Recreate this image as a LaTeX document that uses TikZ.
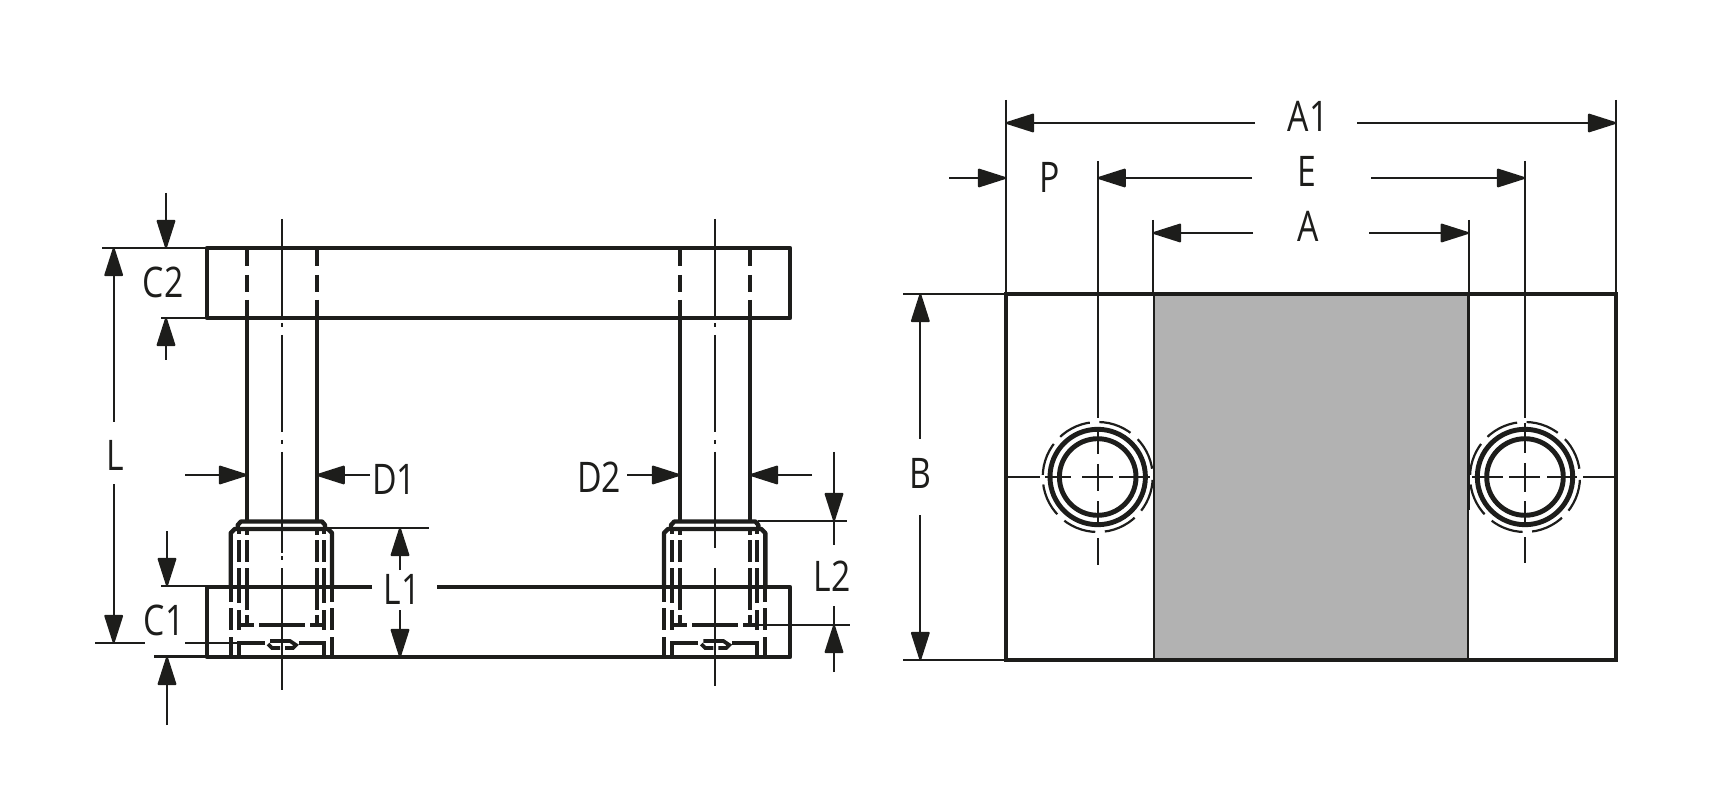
\documentclass[tikz,border=0pt]{standalone}
\usepackage{xcolor}
\usepackage{fontspec}
\setmainfont{Open Sans}
\usetikzlibrary{arrows.meta}
\definecolor{inkblack}{HTML}{1D1D1B}
\definecolor{sleevegrey}{HTML}{B2B2B2}
\newcommand{\dimlabel}[1]{\scalebox{0.8}[1]{\fontsize{24pt}{26pt}\selectfont #1}}
\tikzset{
	outline/.style={draw=inkblack, line width=2.5pt, line join=round},
	hidden/.style={draw=inkblack, line width=2.1pt},
	thinline/.style={draw=inkblack, line width=1.25pt},
	dimarrow/.style={thinline, -{Triangle[length=17.5pt,width=10.8pt,round]}},
	dimtext/.style={text=inkblack, inner sep=0pt}
}

\begin{document}
\begin{tikzpicture}[x=0.02cm, y=-0.02cm]
	\useasboundingbox (0,0) rectangle (1720,810);

	% plates
	\draw[outline] (207,248) rectangle (790,318);
	\draw[outline] (372,587) -- (207,587) -- (207,657) -- (790,657) -- (790,587) -- (437,587);

	% left pin
	\draw[outline] (247,318) -- (247,521);
	\draw[outline] (316.7,318) -- (316.7,521);
	\draw[hidden] (247,248) -- (247,266) (247,275) -- (247,292) (247,300) -- (247,318);
	\draw[hidden] (316.7,248) -- (316.7,266) (316.7,275) -- (316.7,292) (316.7,300) -- (316.7,318);
	\draw[thinline] (281.7,219) -- (281.7,318) (281.7,323) -- (281.7,327) (281.7,335) -- (281.7,432) (281.7,440) -- (281.7,444) (281.7,452) -- (281.7,553) (281.7,556) -- (281.7,560) (281.7,568) -- (281.7,690);
	\draw[outline] (237.7,529) -- (237.7,525) -- (241,521.5) -- (322,521.5) -- (325,525) -- (325,529);
	\draw[outline] (230.7,587) -- (230.7,533) -- (234.7,529) -- (328,529) -- (332,533) -- (332,587);
	\draw[hidden] (230.7,587) -- (230.7,602) (230.7,608) -- (230.7,630) (230.7,637) -- (230.7,657);
	\draw[hidden] (332,587) -- (332,602) (332,608) -- (332,630) (332,637) -- (332,657);
	\draw[hidden] (239,530) -- (239,534) (239,540) -- (239,562) (239,568) -- (239,603) (239,610) -- (239,630);
	\draw[hidden] (324,530) -- (324,534) (324,540) -- (324,562) (324,568) -- (324,603) (324,610) -- (324,630);
	\draw[hidden] (246.7,530) -- (246.7,535) (246.7,540) -- (246.7,562) (246.7,568) -- (246.7,610) (246.7,615) -- (246.7,626);
	\draw[hidden] (316.7,530) -- (316.7,535) (316.7,540) -- (316.7,562) (316.7,568) -- (316.7,610) (316.7,615) -- (316.7,626);
	\draw[hidden] (239,625) -- (254,625) (259,625) -- (305,625) (310,625) -- (324,625);
	\draw[hidden] (239,657) -- (239,643) -- (265,643) (299,643) -- (324,643) -- (324,657);
	\draw[hidden] (268,644) -- (272,648) -- (280,648) (285,648) -- (293,648) -- (296,645) -- (290,641) -- (270,641);

	% right pin
	\draw[outline] (680,318) -- (680,521);
	\draw[outline] (750,318) -- (750,521);
	\draw[hidden] (680,248) -- (680,266) (680,275) -- (680,292) (680,300) -- (680,318);
	\draw[hidden] (750,248) -- (750,266) (750,275) -- (750,292) (750,300) -- (750,318);
	\draw[thinline] (715,219) -- (715,318) (715,323) -- (715,327) (715,335) -- (715,432) (715,440) -- (715,444) (715,452) -- (715,548) (715,568) -- (715,686);
	\draw[outline] (671,529) -- (671,525) -- (674.3,521.5) -- (755.3,521.5) -- (758.3,525) -- (758.3,529);
	\draw[outline] (664,587) -- (664,533) -- (668,529) -- (761.3,529) -- (765.3,533) -- (765.3,587);
	\draw[hidden] (664,587) -- (664,602) (664,608) -- (664,630) (664,637) -- (664,657);
	\draw[hidden] (765.3,587) -- (765.3,602) (765.3,608) -- (765.3,630) (765.3,637) -- (765.3,657);
	\draw[hidden] (672.3,530) -- (672.3,534) (672.3,540) -- (672.3,562) (672.3,568) -- (672.3,603) (672.3,610) -- (672.3,630);
	\draw[hidden] (757.3,530) -- (757.3,534) (757.3,540) -- (757.3,562) (757.3,568) -- (757.3,603) (757.3,610) -- (757.3,630);
	\draw[hidden] (680,530) -- (680,535) (680,540) -- (680,562) (680,568) -- (680,610) (680,615) -- (680,626);
	\draw[hidden] (750,530) -- (750,535) (750,540) -- (750,562) (750,568) -- (750,610) (750,615) -- (750,626);
	\draw[hidden] (672.3,625) -- (687.3,625) (692.3,625) -- (738.3,625) (743.3,625) -- (757.3,625);
	\draw[hidden] (672.3,657) -- (672.3,643) -- (698.3,643) (732.3,643) -- (757.3,643) -- (757.3,657);
	\draw[hidden] (701.3,644) -- (705.3,648) -- (713.3,648) (718.3,648) -- (726.3,648) -- (729.3,645) -- (723.3,641) -- (703.3,641);

	% extension lines of the side view
	\draw[thinline] (102,248) -- (207,248);
	\draw[thinline] (161,318) -- (207,318);
	\draw[thinline] (161,586) -- (207,586);
	\draw[thinline] (154,656.5) -- (207,656.5);
	\draw[thinline] (95,643) -- (145,643);
	\draw[thinline] (185,643) -- (239,643);
	\draw[thinline] (325,528) -- (429,528);
	\draw[thinline] (758,521) -- (847,521);
	\draw[thinline] (758,625) -- (850,625);

	% dimensions of the side view
	\draw[dimarrow] (113.7,422) -- (113.7,248);
	\draw[dimarrow] (113.7,484) -- (113.7,643);
	\draw[dimarrow] (166,193) -- (166,248);
	\draw[dimarrow] (166,360) -- (166,318);
	\draw[dimarrow] (167,531) -- (167,586);
	\draw[dimarrow] (167,725) -- (167,657);
	\draw[dimarrow] (185,475) -- (247,475);
	\draw[dimarrow] (370,475) -- (316.7,475);
	\draw[dimarrow] (627,475) -- (680,475);
	\draw[dimarrow] (812,475) -- (750,475);
	\draw[dimarrow] (400,570) -- (400,528);
	\draw[dimarrow] (400,610) -- (400,657);
	\draw[dimarrow] (834,452) -- (834,521);
	\draw[thinline] (834,521) -- (834,545);
	\draw[dimarrow] (834,672) -- (834,625);
	\draw[thinline] (834,625) -- (834,606);
	\node[dimtext] (labelL) at (115,455) {\dimlabel{L}};
	\node[dimtext] (labelCtwo) at (163,282) {\dimlabel{C2}};
	\node[dimtext] (labelCone) at (164,620) {\dimlabel{C1}};
	\node[dimtext] (labelDone) at (394,479) {\dimlabel{D1}};
	\node[dimtext] (labelDtwo) at (599,477) {\dimlabel{D2}};
	\node[dimtext] (labelLone) at (402,589) {\dimlabel{L1}};
	\node[dimtext] (labelLtwo) at (832,576) {\dimlabel{L2}};

	% top view
	\fill[sleevegrey] (1154,294) rectangle (1468,660);
	\draw[draw=inkblack, line width=0.8pt] (1154,294) rectangle (1468,660);
	\draw[draw=inkblack, line width=1.6pt] (1154,294) -- (1154,507);
	\draw[draw=inkblack, line width=1.6pt] (1468.3,294) -- (1468.3,510);
	\draw[draw=inkblack, line width=2.6pt] (1006,294) rectangle (1616,660);

	% left bore
	\draw[thinline] (1097.7,161) -- (1097.7,418);
	\draw[thinline] (1097.7,427) -- (1097.7,454) (1097.7,464) -- (1097.7,491) (1097.7,501) -- (1097.7,527) (1097.7,538) -- (1097.7,565);
	\draw[thinline] (1006,477) -- (1040,477) (1045,477) -- (1071,477) (1082,477) -- (1113,477) (1119,477) -- (1150,477);
	\draw[draw=inkblack, line width=2.8pt] (1097.7,477) circle (47.7);
	\draw[draw=inkblack, line width=2.8pt] (1097.7,477) circle (38.3);
	\draw[thinline, dash pattern=on 19pt off 5.47pt, dash phase=22.85pt] (1097.7,477) circle (55);

	% right bore
	\draw[thinline] (1525,161) -- (1525,418);
	\draw[thinline] (1525,423) -- (1525,453) (1525,463) -- (1525,492) (1525,501) -- (1525,525) (1525,537) -- (1525,563);
	\draw[thinline] (1472,477) -- (1503,477) (1509,477) -- (1540,477) (1547,477) -- (1577,477) (1583,477) -- (1616,477);
	\draw[draw=inkblack, line width=2.8pt] (1525,477) circle (47.7);
	\draw[draw=inkblack, line width=2.8pt] (1525,477) circle (38.3);
	\draw[thinline, dash pattern=on 19pt off 5.47pt, dash phase=22.85pt] (1525,477) circle (55);

	% extension lines of the top view
	\draw[thinline] (1006,100) -- (1006,294);
	\draw[thinline] (1616,100) -- (1616,294);
	\draw[thinline] (1468.7,220) -- (1468.7,294);
	\draw[thinline] (1153,220) -- (1153,294);
	\draw[thinline] (903,294) -- (1006,294);
	\draw[thinline] (903,660) -- (1006,660);

	% dimensions of the top view
	\draw[dimarrow] (1255,123) -- (1006,123);
	\draw[dimarrow] (1357,123) -- (1616,123);
	\draw[dimarrow] (1252,178) -- (1097.7,178);
	\draw[dimarrow] (1371,178) -- (1525,178);
	\draw[dimarrow] (1253,233) -- (1153,233);
	\draw[dimarrow] (1369,233) -- (1468.7,233);
	\draw[dimarrow] (949,178) -- (1006,178);
	\draw[dimarrow] (920.3,439) -- (920.3,294);
	\draw[dimarrow] (920.3,515) -- (920.3,660);
	\node[dimtext] (labelAone) at (1308,116) {\dimlabel{A1}};
	\node[dimtext] (labelE) at (1307,171) {\dimlabel{E}};
	\node[dimtext] (labelA) at (1308,226) {\dimlabel{A}};
	\node[dimtext] (labelP) at (1050,177) {\dimlabel{P}};
	\node[dimtext] (labelB) at (920.7,473) {\dimlabel{B}};
\end{tikzpicture}
\end{document}
